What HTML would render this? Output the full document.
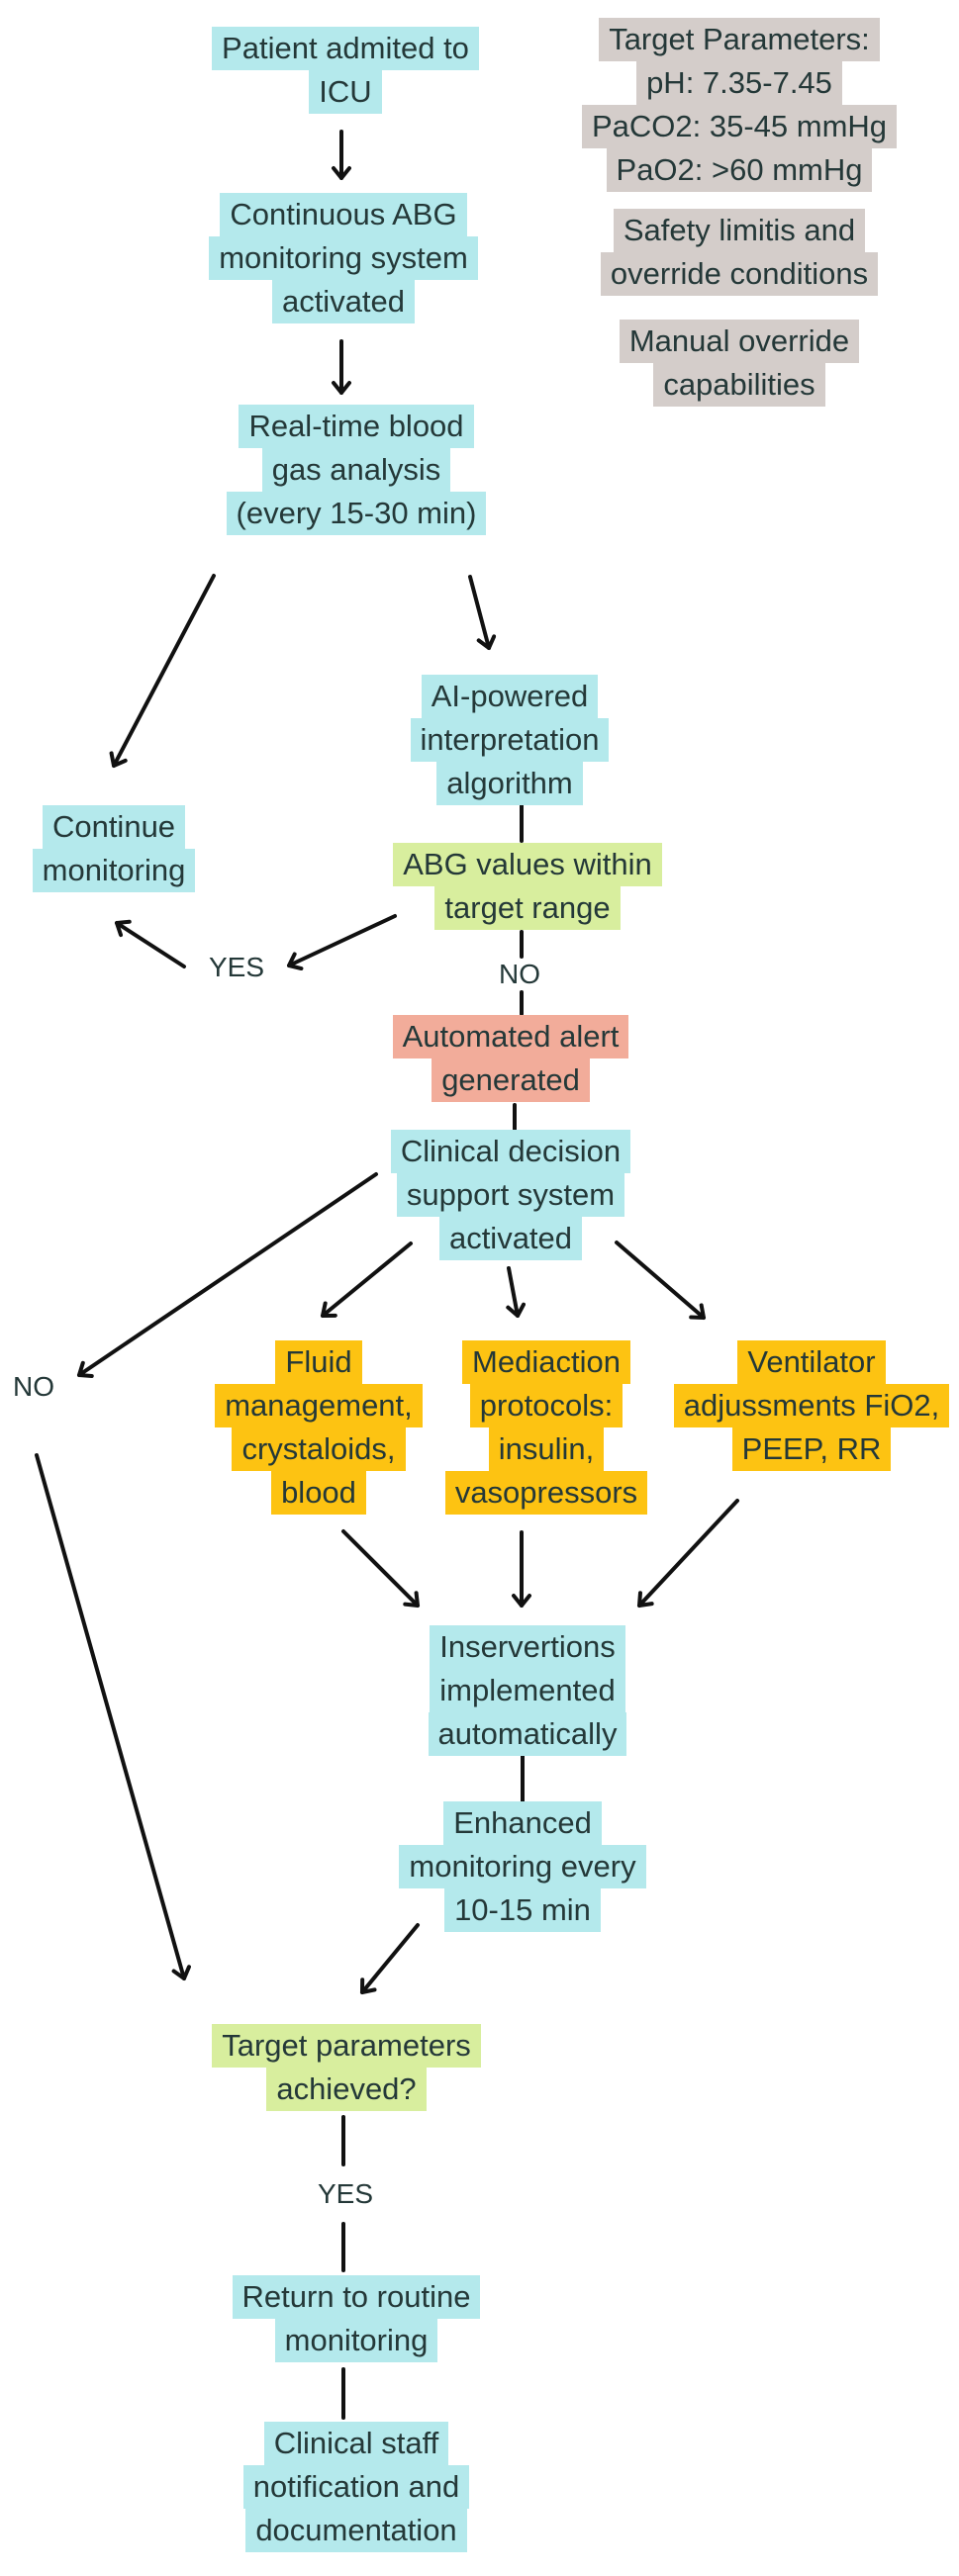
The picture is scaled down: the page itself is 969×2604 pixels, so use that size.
<!DOCTYPE html>
<html><head><meta charset="utf-8">
<style>
html,body{margin:0;padding:0;background:#fff;}
body{width:969px;height:2604px;position:relative;overflow:hidden;font-family:"Liberation Sans",sans-serif;}
.n{position:absolute;width:600px;text-align:center;font-size:31px;color:#243838;}
.n div{height:44px;line-height:44px;}
.n span{display:inline-block;vertical-align:top;padding:0 10px;height:44px;line-height:44px;white-space:nowrap;}
.c span{background:#b4e9ec;}
.g span{background:#d8ee9e;}
.r span{background:#f2ac9a;}
.o span{background:#fdc312;}
.y span{background:#d4cdca;}
.lb{position:absolute;font-size:28px;color:#243838;transform:translate(-50%,-50%);white-space:nowrap;}
svg{position:absolute;left:0;top:0;}
</style></head><body>
<svg width="969" height="2604" viewBox="0 0 969 2604">
<defs>
<marker id="a" markerUnits="userSpaceOnUse" markerWidth="30" markerHeight="30" refX="14" refY="10" orient="auto">
<path d="M4,2 L14,10 L4,18" fill="none" stroke="#111" stroke-width="4" stroke-linecap="round" stroke-linejoin="round"/>
</marker>
</defs>
<g stroke="#111" stroke-width="4" fill="none" stroke-linecap="round">
<line x1="345" y1="133" x2="345" y2="180" marker-end="url(#a)"/>
<line x1="345" y1="345" x2="345" y2="397" marker-end="url(#a)"/>
<line x1="216" y1="582" x2="115" y2="774" marker-end="url(#a)"/>
<line x1="475" y1="583" x2="494" y2="655" marker-end="url(#a)"/>
<line x1="527" y1="810" x2="527" y2="850"/>
<line x1="399" y1="926" x2="292" y2="976" marker-end="url(#a)"/>
<line x1="186" y1="977" x2="118" y2="933" marker-end="url(#a)"/>
<line x1="527" y1="942" x2="527" y2="967"/>
<line x1="527" y1="1003" x2="527" y2="1025"/>
<line x1="520" y1="1117" x2="520" y2="1142"/>
<line x1="380" y1="1187" x2="80" y2="1390" marker-end="url(#a)"/>
<line x1="415" y1="1257" x2="326" y2="1330" marker-end="url(#a)"/>
<line x1="514" y1="1282" x2="523" y2="1330" marker-end="url(#a)"/>
<line x1="623" y1="1256" x2="711" y2="1332" marker-end="url(#a)"/>
<line x1="37" y1="1471" x2="186" y2="2000" marker-end="url(#a)"/>
<line x1="347" y1="1548" x2="422" y2="1623" marker-end="url(#a)"/>
<line x1="527" y1="1549" x2="527" y2="1623" marker-end="url(#a)"/>
<line x1="745" y1="1517" x2="646" y2="1623" marker-end="url(#a)"/>
<line x1="528" y1="1775" x2="528" y2="1821"/>
<line x1="422" y1="1946" x2="366" y2="2014" marker-end="url(#a)"/>
<line x1="347" y1="2140" x2="347" y2="2188"/>
<line x1="347" y1="2248" x2="347" y2="2295"/>
<line x1="347" y1="2395" x2="347" y2="2444"/>
</g>
</svg>

<div class="n c" style="left:49px;top:27px"><div><span>Patient admited to</span></div><div><span>ICU</span></div></div>
<div class="n c" style="left:47px;top:195px"><div><span>Continuous ABG</span></div><div><span>monitoring system</span></div><div><span>activated</span></div></div>
<div class="n c" style="left:60px;top:409px"><div><span>Real-time blood</span></div><div><span>gas analysis</span></div><div><span>(every 15-30 min)</span></div></div>

<div class="n y" style="left:447px;top:18px"><div><span>Target Parameters:</span></div><div><span>pH: 7.35-7.45</span></div><div><span>PaCO2: 35-45 mmHg</span></div><div><span>PaO2: &gt;60 mmHg</span></div></div>
<div class="n y" style="left:447px;top:211px"><div><span>Safety limitis and</span></div><div><span>override conditions</span></div></div>
<div class="n y" style="left:447px;top:323px"><div><span>Manual override</span></div><div><span>capabilities</span></div></div>

<div class="n c" style="left:215px;top:682px"><div><span>AI-powered</span></div><div><span>interpretation</span></div><div><span>algorithm</span></div></div>
<div class="n c" style="left:-185px;top:814px"><div><span>Continue</span></div><div><span>monitoring</span></div></div>
<div class="n g" style="left:233px;top:852px"><div><span>ABG values within</span></div><div><span>target range</span></div></div>
<div class="lb" style="left:239px;top:978px">YES</div>
<div class="lb" style="left:525px;top:985px">NO</div>
<div class="n r" style="left:216px;top:1026px"><div><span>Automated alert</span></div><div><span>generated</span></div></div>
<div class="n c" style="left:216px;top:1142px"><div><span>Clinical decision</span></div><div><span>support system</span></div><div><span>activated</span></div></div>
<div class="lb" style="left:34px;top:1402px">NO</div>

<div class="n o" style="left:22px;top:1355px"><div><span>Fluid</span></div><div><span>management,</span></div><div><span>crystaloids,</span></div><div><span>blood</span></div></div>
<div class="n o" style="left:252px;top:1355px"><div><span>Mediaction</span></div><div><span>protocols:</span></div><div><span>insulin,</span></div><div><span>vasopressors</span></div></div>
<div class="n o" style="left:520px;top:1355px"><div><span>Ventilator</span></div><div><span>adjussments FiO2,</span></div><div><span>PEEP, RR</span></div></div>

<div class="n c" style="left:233px;top:1643px"><div><span>Inservertions</span></div><div><span>implemented</span></div><div><span>automatically</span></div></div>
<div class="n c" style="left:228px;top:1821px"><div><span>Enhanced</span></div><div><span>monitoring every</span></div><div><span>10-15 min</span></div></div>

<div class="n g" style="left:50px;top:2046px"><div><span>Target parameters</span></div><div><span>achieved?</span></div></div>
<div class="lb" style="left:349px;top:2218px">YES</div>
<div class="n c" style="left:60px;top:2300px"><div><span>Return to routine</span></div><div><span>monitoring</span></div></div>
<div class="n c" style="left:60px;top:2448px"><div><span>Clinical staff</span></div><div><span>notification and</span></div><div><span>documentation</span></div></div>
</body></html>
